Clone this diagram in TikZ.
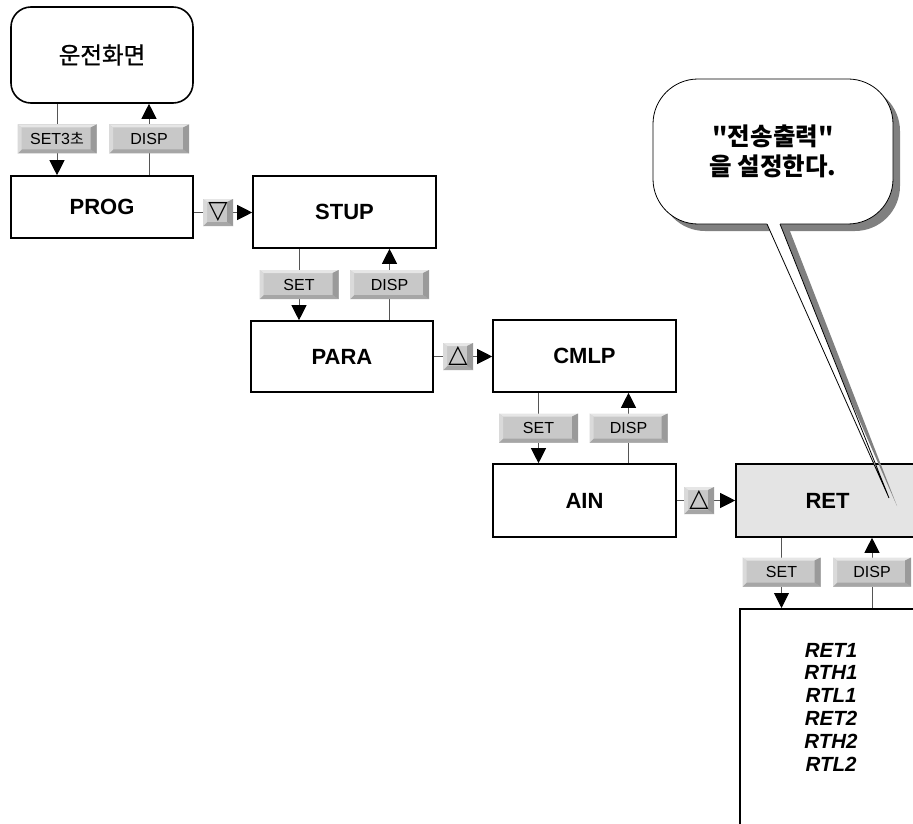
\documentclass[tikz,border=0pt]{standalone}
\usepackage{fontspec}
\setmainfont{Liberation Sans}
\newfontfamily\kr{Noto Sans CJK KR}
\newfontfamily\krm{Noto Sans CJK KR}[FakeBold=0.8]
\newfontfamily\sym{DejaVu Sans}
\usetikzlibrary{arrows.meta,calc}

\definecolor{keyface}{HTML}{C8C8C8}
\definecolor{keytop}{HTML}{E6E6E6}
\definecolor{keyleft}{HTML}{DADADA}
\definecolor{keyright}{HTML}{9A9A9A}
\definecolor{keybottom}{HTML}{A6A6A6}
\definecolor{retfill}{HTML}{E4E4E4}
\definecolor{linegray}{HTML}{555555}
\definecolor{shadegray}{HTML}{808080}

\pgfdeclarelayer{bg}
\pgfsetlayers{bg,main}

\begin{document}
\begin{tikzpicture}[x=1pt,y=-1pt,
  box/.style={draw=black, line width=1.6pt, fill=white, inner sep=0pt,
    font=\fontsize{22}{26}\selectfont\bfseries},
  conn/.style={draw=linegray, line width=0.9pt},
  arr/.style={conn, -{Triangle[length=15pt,width=15pt,color=black,fill=black]}},
  keycap/.style={rectangle, fill=keyface, inner sep=0pt,
    minimum width=79pt, minimum height=29pt,
    font=\fontsize{16}{19}\selectfont,
    path picture={
      \fill[keytop] (path picture bounding box.north west) -- (path picture bounding box.north east)
        -- ([shift={(-6pt,-3pt)}]path picture bounding box.north east)
        -- ([shift={(4pt,-3pt)}]path picture bounding box.north west) -- cycle;
      \fill[keybottom] (path picture bounding box.south west) -- (path picture bounding box.south east)
        -- ([shift={(-6pt,4pt)}]path picture bounding box.south east)
        -- ([shift={(4pt,4pt)}]path picture bounding box.south west) -- cycle;
      \fill[keyleft] (path picture bounding box.north west)
        -- ([shift={(4pt,-3pt)}]path picture bounding box.north west)
        -- ([shift={(4pt,4pt)}]path picture bounding box.south west)
        -- (path picture bounding box.south west) -- cycle;
      \fill[keyright] (path picture bounding box.north east)
        -- ([shift={(-6pt,-3pt)}]path picture bounding box.north east)
        -- ([shift={(-6pt,4pt)}]path picture bounding box.south east)
        -- (path picture bounding box.south east) -- cycle;
    }},
  smallkey/.style={keycap, minimum width=30pt, minimum height=27pt,
    font=\sym\fontsize{25}{28}\selectfont},
]

\useasboundingbox (0,0) rectangle (913,824);
\begin{pgfonlayer}{bg}
  \fill[white] (0,0) rectangle (913,824);
\end{pgfonlayer}
\clip (0,0) rectangle (913,824);

% menu boxes
\node[box, rounded corners=20pt, minimum width=182pt, minimum height=96pt,
      font=\krm\fontsize{23.5}{27}\selectfont] (run) at (102,55) {운전화면};
\node[box, minimum width=182pt, minimum height=62pt] (prog) at (102,207) {PROG};
\node[box, minimum width=183pt, minimum height=72pt] (stup) at (344.5,212) {STUP};
\node[box, minimum width=182pt, minimum height=71pt] (para) at (342,356.5) {PARA};
\node[box, minimum width=183pt, minimum height=72pt] (cmlp) at (584.5,356) {CMLP};
\node[box, minimum width=183pt, minimum height=73pt] (ain) at (584.5,500.5) {AIN};
\node[box, fill=retfill, minimum width=183pt, minimum height=73pt] (ret) at (827.5,500.5) {RET};
\node[box, anchor=north west, minimum width=183pt, minimum height=230pt] (list) at (739,608) {};
\node[font=\fontsize{20.5}{22.8}\selectfont\bfseries\itshape, align=center] (items) at (831,707)
  {RET1\\RTH1\\RTL1\\RET2\\RTH2\\RTL2};

% key caps
\node[keycap, minimum width=79pt] (k1) at (57,139) {SET3{\kr\fontsize{15}{18}\selectfont 초}};
\node[keycap, minimum width=80pt] (k2) at (149,139) {DISP};
\node[smallkey] (kd) at (218,212.5) {▽};
\node[keycap, minimum width=79pt] (k3) at (299,284.5) {SET};
\node[keycap, minimum width=79pt] (k4) at (389.5,284.5) {DISP};
\node[smallkey] (kp) at (458,356.5) {△};
\node[keycap, minimum width=79pt] (k5) at (538.5,428) {SET};
\node[keycap, minimum width=78pt] (k6) at (628.5,428) {DISP};
\node[smallkey] (ka) at (699,500.5) {△};
\node[keycap, minimum width=78pt] (k7) at (781.5,572) {SET};
\node[keycap, minimum width=78pt] (k8) at (872,572) {DISP};

% connectors, behind the key caps
\begin{pgfonlayer}{bg}
  \draw[arr] (k1 |- run.south) -- (k1 |- prog.north);
  \draw[arr] (k2 |- prog.north) -- (k2 |- run.south);
  \draw[arr] (prog.east |- kd) -- (stup.west |- kd);
  \draw[arr] (k3 |- stup.south) -- (k3 |- para.north);
  \draw[arr] (k4 |- para.north) -- (k4 |- stup.south);
  \draw[arr] (para.east |- kp) -- (cmlp.west |- kp);
  \draw[arr] (k5 |- cmlp.south) -- (k5 |- ain.north);
  \draw[arr] (k6 |- ain.north) -- (k6 |- cmlp.south);
  \draw[arr] (ain.east |- ka) -- (ret.west |- ka);
  \draw[arr] (k7 |- ret.south) -- (k7 |- list.north);
  \draw[arr] (k8 |- list.north) -- (k8 |- ret.south);
\end{pgfonlayer}

% speech bubble with drop shadow
\fill[shadegray, rounded corners=45pt] (660,86) rectangle (900,231);
\fill[shadegray] (774,226) -- (897,506) -- (788,226) -- cycle;
\draw[fill=white, line width=0.8pt, rounded corners=45pt] (653,79) rectangle (893,224);
\fill[white] (766,219) -- (767,224) -- (889,498) -- (780,224) -- (781,219) -- cycle;
\draw[line width=0.8pt, line join=miter] (767,224) -- (889,498) -- (780,224);
\node[font=\kr\bfseries\fontsize{24.5}{30}\selectfont, align=center] (note) at (773,151)
  {"전송출력"\\을 설정한다.};

\end{tikzpicture}
\end{document}
